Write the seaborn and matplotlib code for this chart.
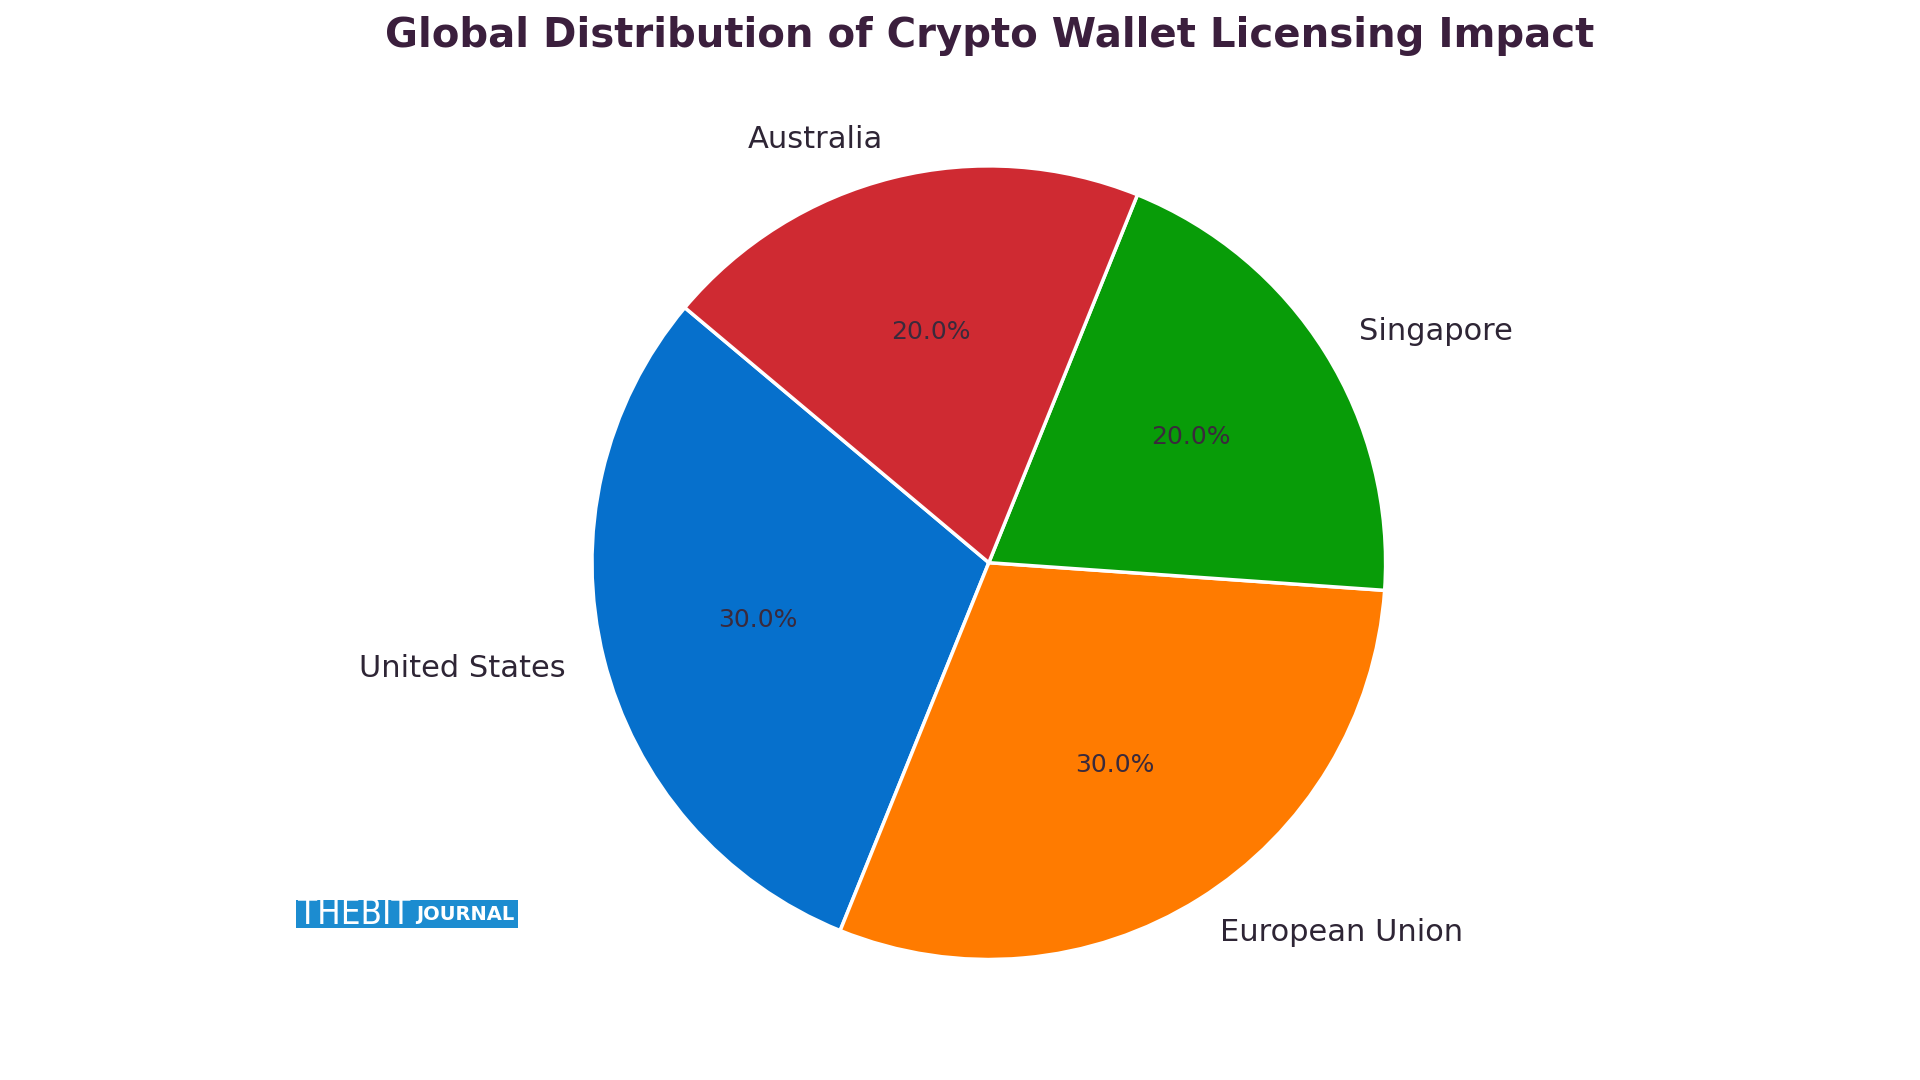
import matplotlib
matplotlib.use("Agg")
import matplotlib.pyplot as plt
import seaborn as sns
from matplotlib.patches import Rectangle

# Data
regions = ["United States", "European Union", "Singapore", "Australia"]
shares = [30, 30, 20, 20]
colors = ["#0670CC", "#FF7B00", "#089C08", "#CF2A32"]
title = "Global Distribution of Crypto Wallet Licensing Impact"

sns.set_theme(style="white")
plt.rcParams["font.family"] = ["DejaVu Sans"]
palette = sns.color_palette(colors)

fig = plt.figure(figsize=(19.2, 10.8), dpi=100)
fig.patch.set_facecolor("white")
ax = fig.add_axes([0.267, 0.038, 0.496, 0.882])

wedges, texts, autotexts = ax.pie(
    shares, labels=regions, colors=palette, startangle=140,
    autopct="%1.1f%%", pctdistance=0.6, labeldistance=1.1,
    wedgeprops=dict(edgecolor="white", linewidth=2.5),
    textprops=dict(fontsize=22, color="#2E2535"),
)
for t in autotexts:
    t.set_fontsize(18)
    t.set_color("#3A2A3C")
ax.set_xlim(-1.2, 1.2)
ax.set_ylim(-1.2, 1.2)
ax.set_aspect("equal")
ax.axis("off")

fig.text(0.5156, 0.967, title, ha="center", va="center",
         fontsize=29, fontweight="bold", color="#3B1F3D")

# watermark logo
fig.patches.append(Rectangle((296 / 1920, 1 - 928 / 1080), 222 / 1920, 28 / 1080,
                             transform=fig.transFigure, facecolor="#1C8CD0",
                             edgecolor="none", zorder=5))
fig.text(298 / 1920, 1 - 914 / 1080, "THEBIT", ha="left", va="center",
         fontsize=25, fontweight="light", color="white", zorder=6,
         family=["DejaVu Sans"], fontstretch="condensed")
fig.text(416 / 1920, 1 - 914 / 1080, "JOURNAL", ha="left", va="center",
         fontsize=14, fontweight="bold", color="white", zorder=6)

fig.savefig("out.png", dpi=100, facecolor="white")
